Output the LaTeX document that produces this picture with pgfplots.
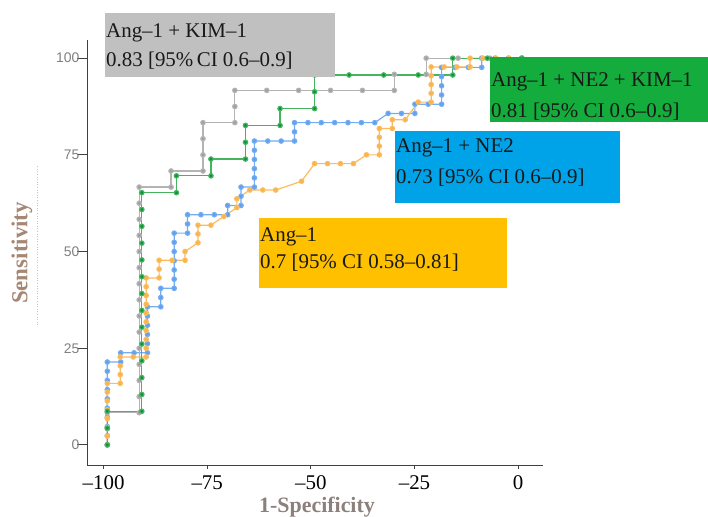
\documentclass[border=0pt]{standalone}
\usepackage{pgfplots}
\pgfplotsset{compat=1.18}
\usepackage{fontspec}
\setmainfont{Liberation Serif}
\newfontfamily\sansf{Liberation Sans}

\definecolor{cgray}{RGB}{180,180,180}
\definecolor{cgraydot}{RGB}{160,160,160}
\definecolor{cgreen}{RGB}{70,180,95}
\definecolor{cgreendot}{RGB}{10,150,55}
\definecolor{cblue}{RGB}{115,172,240}
\definecolor{cbluedot}{RGB}{95,160,240}
\definecolor{corange}{RGB}{250,188,95}
\definecolor{corangedot}{RGB}{250,178,75}
\definecolor{boxgray}{RGB}{192,192,192}
\definecolor{boxgreen}{RGB}{20,172,60}
\definecolor{boxblue}{RGB}{0,162,232}
\definecolor{boxyellow}{RGB}{255,192,0}
\definecolor{labx}{RGB}{140,128,125}
\definecolor{laby}{RGB}{165,135,115}

\begin{document}
\begin{tikzpicture}
\useasboundingbox (0,0) rectangle (708bp,517bp);
\begin{axis}[
  at={(87bp,52bp)}, anchor=south west,
  scale only axis, width=456bp, height=425bp,
  xmin=-104, xmax=6, ymin=-5.2, ymax=104.7,
  axis x line*=bottom, axis y line*=left,
  axis line style={draw=black!75, line width=0.8bp, -},
  tick align=outside,
  major tick length=4bp,
  tick style={black!75, line width=0.8bp},
  ytick style={/pgfplots/major tick length=10bp},
  xtick={-100,-75,-50,-25,0},
  xticklabels={--100,--75,--50,--25,0},
  ytick={0,25,50,75,100},
  yticklabels={0,25,50,75,100},
  xticklabel style={font=\fontsize{21}{21}\selectfont, text=black, yshift=-3bp},
  yticklabel style={font=\sansf\fontsize{14}{14}\selectfont, text=black!50},
  clip=false,
]
% Ang-1 + NE2
\addplot[cblue, line width=1.2bp, mark=*, mark size=2.2bp, mark options={draw=none, fill=cbluedot}] coordinates {
(-99.10,0) (-99.10,2.38) (-99.10,4.76) (-99.10,7.14) (-99.10,9.52) (-99.10,11.90) (-99.10,14.29) (-99.10,16.67) (-99.10,19.05) (-99.10,21.43)
(-95.87,21.43) (-95.87,23.81)
(-92.65,23.81) (-89.42,23.81) (-89.42,26.19) (-89.42,28.57) (-89.42,30.95) (-89.42,33.33) (-89.42,35.71)
(-86.20,35.71) (-86.20,38.10) (-86.20,40.48)
(-82.97,40.48) (-82.97,42.86) (-82.97,45.24) (-82.97,47.62) (-82.97,50.00) (-82.97,52.38) (-82.97,54.76)
(-79.74,54.76) (-79.74,57.14) (-79.74,59.52)
(-76.52,59.52) (-73.29,59.52) (-70.07,59.52) (-70.07,61.90)
(-66.84,61.90) (-66.84,64.29) (-66.84,66.67)
(-63.62,66.67) (-63.62,69.05) (-63.62,71.43) (-63.62,73.81) (-63.62,76.19) (-63.62,78.57)
(-60.39,78.57) (-57.16,78.57) (-53.94,78.57) (-53.94,80.95) (-53.94,83.33)
(-50.71,83.33) (-47.49,83.33) (-44.26,83.33) (-41.04,83.33) (-37.81,83.33) (-34.58,83.33)
(-31.36,85.71) (-28.13,85.71) (-24.91,85.71) (-24.91,88.10)
(-21.68,88.10) (-18.46,88.10) (-18.46,90.48) (-18.46,92.86) (-18.46,95.24) (-18.46,97.62)
(-15.23,97.62) (-12.00,97.62) (-8.78,97.62) (-8.78,100)
(-5.55,100) (-2.33,100) (0.90,100)
};
% Ang-1
\addplot[corange, line width=1.2bp, mark=*, mark size=2.2bp, mark options={draw=none, fill=corangedot}] coordinates {
(-99.10,0) (-99.10,2.27) (-99.10,4.55) (-99.10,6.82) (-99.10,9.09) (-99.10,11.36) (-99.10,13.64) (-99.10,15.91)
(-95.98,15.91) (-95.98,18.18) (-95.98,20.45) (-95.98,22.73)
(-92.85,22.73) (-89.73,22.73) (-89.73,25.00) (-89.73,27.27) (-89.73,29.55) (-89.73,31.82) (-89.73,34.09) (-89.73,36.36) (-89.73,38.64) (-89.73,40.91) (-89.73,43.18)
(-86.60,43.18) (-86.60,45.45) (-86.60,47.73)
(-83.48,47.73) (-80.35,47.73) (-80.35,50.00)
(-77.23,52.27) (-77.23,54.55) (-77.23,56.82)
(-74.10,56.82) (-70.98,59.09) (-67.85,61.36) (-67.85,63.64) (-64.73,65.91) (-61.60,65.91) (-58.48,65.91)
(-52.23,68.18) (-49.10,72.73) (-45.98,72.73) (-42.85,72.73) (-39.73,72.73) (-36.60,75.00) (-33.48,75.00)
(-33.48,77.27) (-33.48,79.55) (-33.48,81.82) (-30.35,81.82) (-30.35,84.09) (-27.23,84.09) (-24.10,88.64)
(-20.98,88.64) (-20.98,90.91) (-20.98,93.18) (-20.98,95.45) (-20.98,97.73)
(-17.85,97.73) (-14.73,97.73) (-11.60,97.73) (-11.60,100) (-8.48,100) (-5.35,100) (-2.23,100) (0.90,100)
};
% Ang-1 + KIM-1
\addplot[cgray, line width=1.2bp, mark=*, mark size=2.2bp, mark options={draw=none, fill=cgraydot}] coordinates {
(-99.10,0) (-99.10,4.17) (-99.10,8.33) (-91.41,8.33) (-91.41,12.50) (-91.41,16.67) (-91.41,20.83) (-91.41,25.00)
(-91.41,29.17) (-91.41,33.33) (-91.41,37.50) (-91.41,41.67) (-91.41,45.83) (-91.41,50.00) (-91.41,54.17)
(-91.41,58.33) (-91.41,62.50) (-91.41,66.67) (-83.72,66.67) (-83.72,70.83) (-76.02,70.83) (-76.02,75.00)
(-76.02,79.17) (-76.02,83.33) (-68.33,83.33) (-68.33,87.50) (-68.33,91.67) (-60.64,91.67) (-52.95,91.67)
(-45.25,91.67) (-37.56,91.67) (-29.87,91.67) (-29.87,95.83) (-22.18,95.83) (-22.18,100) (-14.48,100)
(-6.79,100) (0.90,100)
};
% Ang-1 + NE2 + KIM-1
\addplot[cgreen, line width=1.2bp, mark=*, mark size=2.2bp, mark options={draw=none, fill=cgreendot}] coordinates {
(-99.10,0) (-99.10,4.35) (-99.10,8.70) (-90.77,8.70) (-90.77,13.04) (-90.77,17.39) (-90.77,21.74) (-90.77,26.09)
(-90.77,30.43) (-90.77,34.78) (-90.77,39.13) (-90.77,43.48) (-90.77,47.83) (-90.77,52.17) (-90.77,56.52)
(-90.77,60.87) (-90.77,65.22) (-82.43,65.22) (-82.43,69.57) (-74.10,69.57) (-74.10,73.91) (-65.77,73.91)
(-65.77,78.26) (-65.77,82.61) (-57.43,82.61) (-57.43,86.96) (-49.10,86.96) (-49.10,91.30) (-49.10,95.65)
(-40.77,95.65) (-32.43,95.65) (-24.10,95.65) (-15.77,95.65) (-15.77,100) (-7.43,100) (0.90,100)
};
\end{axis}

% AUC boxes
\fill[boxgray] (105bp,440bp) rectangle (335bp,504bp);
\fill[boxgreen] (490bp,395bp) rectangle (708bp,460bp);
\fill[boxblue] (395bp,314bp) rectangle (620bp,386bp);
\fill[boxyellow] (259bp,229bp) rectangle (507bp,299bp);
\begin{scope}[every node/.style={anchor=base west, inner sep=0pt, font=\fontsize{21}{21}\selectfont, text=black!90}]
\node at (106bp,479bp) {Ang--1 + KIM--1};
\node at (106bp,450bp) {0.83 [95\%\,CI 0.6--0.9]};
\node at (491bp,430bp) {Ang--1 + NE2 + KIM--1};
\node at (491bp,399bp) {0.81 [95\% CI 0.6--0.9]};
\node at (396bp,364bp) {Ang--1 + NE2};
\node at (396bp,333bp) {0.73 [95\% CI 0.6--0.9]};
\node at (260bp,275bp) {Ang--1};
\node at (260bp,248bp) {0.7 [95\% CI 0.58--0.81]};
\end{scope}

% axis titles
\node[rotate=90, font=\bfseries\fontsize{23}{23}\selectfont, text=laby] at (22bp,264bp) {Sensitivity};
\draw[cyan!45, dotted, line width=0.6bp] (37bp,192bp) -- (37bp,352bp);
\node[anchor=base, inner sep=0pt, font=\bfseries\fontsize{22}{22}\selectfont, text=labx] at (317bp,5bp) {1-Specificity};
\end{tikzpicture}
\end{document}
